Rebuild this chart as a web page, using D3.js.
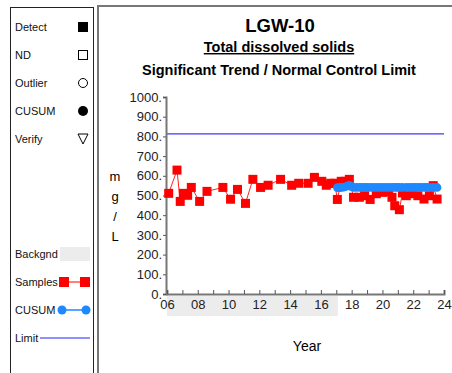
<!DOCTYPE html>
<html>
<head>
<meta charset="utf-8">
<script src="https://cdn.jsdelivr.net/npm/d3@7"></script>
<style>
  body { margin: 0; background: #fff; }
  svg { display: block; font-family: "Liberation Sans", Arial, sans-serif; }
</style>
</head>
<body>
<svg id="chart" width="452" height="373"></svg>
<script>
// sample dates (decimal year) and TDS values, mg/L
const sampleYears = [2006.11, 2006.65, 2006.86, 2007.06, 2007.34, 2007.58, 2008.12, 2008.6, 2009.63, 2010.13,
  2010.58, 2011.1, 2011.58, 2012.08, 2012.57, 2013.38, 2014.1, 2014.56, 2015.17, 2015.58,
  2016.06, 2016.35, 2016.64, 2016.9, 2017.07, 2017.32, 2017.58, 2017.85, 2018.12, 2018.5,
  2018.84, 2019.2, 2019.6, 2020.0, 2020.4, 2020.62, 2020.8, 2021.1, 2021.3, 2021.55,
  2021.95, 2022.3, 2022.7, 2023.05, 2023.3, 2023.55]
const sampleValues = [511, 629, 470, 511, 501, 541, 470, 521, 541, 481,
  531, 460, 582, 541, 552, 582, 552, 562, 562, 592,
  572, 552, 562, 562, 480, 572, 572, 582, 491, 491,
  499, 480, 509, 516, 519, 491, 448, 428, 513, 499,
  509, 499, 482, 499, 550, 482]

// cusum track after background period
const cusumYears = [2017.07, 2017.2, 2017.32, 2017.45, 2017.58, 2017.72, 2017.85, 2017.98, 2018.12, 2018.3,
  2018.5, 2018.67, 2018.84, 2019.02, 2019.2, 2019.4, 2019.6, 2019.8, 2020.0, 2020.2,
  2020.4, 2020.62, 2020.8, 2020.95, 2021.1, 2021.3, 2021.55, 2021.75, 2021.95, 2022.12,
  2022.3, 2022.5, 2022.7, 2022.88, 2023.05, 2023.3, 2023.55]
const cusumValues = [540, 540, 541, 542, 544, 548, 552, 545, 541, 541,
  541, 541, 541, 541, 541, 541, 541, 541, 541, 541,
  541, 541, 541, 541, 541, 541, 541, 541, 541, 541,
  541, 541, 541, 541, 541, 541, 541]

const limitValue = 813
const backgroundPeriod = [2006, 2017.1]
const yTicks = [0, 100, 200, 300, 400, 500, 600, 700, 800, 900, 1000]
const xLabelYears = [2006, 2008, 2010, 2012, 2014, 2016, 2018, 2020, 2022, 2024]

const legendSymbols = ["Detect", "ND", "Outlier", "CUSUM", "Verify"]
const legendLines = ["Backgnd", "Samples", "CUSUM", "Limit"]

const svg = d3.select("#chart")

//panels
svg.append("rect").attr("x", 10.5).attr("y", 7.5).attr("width", 83).attr("height", 380)
  .attr("fill", "none").attr("stroke", "#222").attr("stroke-width", 1)
svg.append("rect").attr("x", 98).attr("y", 6).attr("width", 370).attr("height", 380)
  .attr("fill", "none").attr("stroke", "#777").attr("stroke-width", 2)

//legend - symbols
const leg = svg.append("g").attr("font-size", 11).attr("fill", "#111")
legendSymbols.forEach((t, i) => {
  let y = 27 + i * 28
  leg.append("text").attr("x", 15).attr("y", y + 4).text(t)
  let cx = 83
  if (i == 0) leg.append("rect").attr("x", cx - 5).attr("y", y - 5).attr("width", 10).attr("height", 10).attr("fill", "#000")
  if (i == 1) leg.append("rect").attr("x", cx - 4.5).attr("y", y - 4.5).attr("width", 9).attr("height", 9).attr("fill", "none").attr("stroke", "#000")
  if (i == 2) leg.append("circle").attr("cx", cx).attr("cy", y).attr("r", 4.5).attr("fill", "none").attr("stroke", "#000")
  if (i == 3) leg.append("circle").attr("cx", cx).attr("cy", y).attr("r", 5).attr("fill", "#000")
  if (i == 4) leg.append("path").attr("d", `M${cx - 5},${y - 5}L${cx + 5},${y - 5}L${cx},${y + 5}Z`).attr("fill", "none").attr("stroke", "#000")
})

//legend - lines
legendLines.forEach((t, i) => {
  let y = 254 + i * 28
  leg.append("text").attr("x", 15).attr("y", y + 4).text(t)
  if (i == 0) leg.append("rect").attr("x", 60).attr("y", y - 7).attr("width", 30).attr("height", 14).attr("fill", "#ececec")
  if (i == 1) {
    leg.append("line").attr("x1", 64).attr("x2", 85).attr("y1", y).attr("y2", y).attr("stroke", "#f00")
    leg.selectAll(null).data([64, 85]).enter().append("rect")
      .attr("x", d => d - 5).attr("y", y - 5).attr("width", 10).attr("height", 10).attr("fill", "#f00")
  }
  if (i == 2) {
    leg.append("line").attr("x1", 62).attr("x2", 86).attr("y1", y).attr("y2", y).attr("stroke", "#1e88ff").attr("stroke-width", 1.5)
    leg.selectAll(null).data([62, 86]).enter().append("circle")
      .attr("cx", d => d).attr("cy", y).attr("r", 4.5).attr("fill", "#1e88ff")
  }
  if (i == 3) leg.append("line").attr("x1", 40).attr("x2", 90).attr("y1", y).attr("y2", y).attr("stroke", "#22f").attr("stroke-width", 1.2)
})

//titles
const tg = svg.append("g").attr("text-anchor", "middle").attr("font-weight", "bold").attr("fill", "#000")
tg.append("text").attr("x", 280).attr("y", 32).attr("font-size", 18.5).text("LGW-10")
tg.append("text").attr("x", 279).attr("y", 52).attr("font-size", 14.5).attr("text-decoration", "underline").text("Total dissolved solids")
tg.append("text").attr("x", 279).attr("y", 75).attr("font-size", 14.5).text("Significant Trend / Normal Control Limit")

//scales
const x = d3.scaleLinear().domain([2006, 2024]).range([167, 444])
const y = d3.scaleLinear().domain([0, 1000]).range([294, 97])

//background band
svg.append("rect").attr("x", x(backgroundPeriod[0])).attr("y", 296)
  .attr("width", x(backgroundPeriod[1]) - x(backgroundPeriod[0])).attr("height", 20).attr("fill", "#ececec")

//limit
svg.append("line").attr("x1", x(2006)).attr("x2", x(2024)).attr("y1", y(limitValue)).attr("y2", y(limitValue))
  .attr("stroke", "#3a3aff").attr("stroke-width", 1.3)

//axes
const yAxis = svg.append("g").attr("transform", "translate(166,0)")
  .call(d3.axisLeft(y).tickValues(yTicks).tickSize(3).tickFormat(d => d + "."))
const xAxis = svg.append("g").attr("transform", "translate(0,294)")
  .call(d3.axisBottom(x).tickValues(d3.range(2006, 2025)).tickSize(-4).tickFormat(d => xLabelYears.includes(d) ? String(d).slice(2) : ""))
;[yAxis, xAxis].forEach(a => {
  a.select(".domain").attr("stroke", "#777").attr("stroke-width", 2)
  a.selectAll(".tick line").attr("stroke", "#555")
  a.selectAll("text").attr("fill", "#222").attr("font-size", 13).attr("font-family", "Liberation Sans, Arial, sans-serif")
})
yAxis.selectAll("text").attr("x", -4)
xAxis.selectAll("text").attr("y", 6)

//axis labels
const yl = svg.append("g").attr("font-size", 13).attr("text-anchor", "middle").attr("fill", "#000")
;["m", "g", "/", "L"].forEach((c, i) => yl.append("text").attr("x", 115).attr("y", 181 + i * 20).text(c))
svg.append("text").attr("x", 307).attr("y", 351).attr("font-size", 14).attr("text-anchor", "middle").text("Year")

//samples
const pts = sampleYears.map((d, i) => [d, sampleValues[i]])
svg.append("path").datum(pts).attr("fill", "none").attr("stroke", "#f22").attr("stroke-width", 1)
  .attr("d", d3.line().x(d => x(d[0])).y(d => y(d[1])))
svg.selectAll(".s").data(pts).enter().append("rect").attr("class", "s")
  .attr("x", d => x(d[0]) - 4.5).attr("y", d => y(d[1]) - 4.5).attr("width", 9).attr("height", 9).attr("fill", "#f00")

//cusum
const cpts = cusumYears.map((d, i) => [d, cusumValues[i]])
svg.append("path").datum(cpts).attr("fill", "none").attr("stroke", "#1e88ff").attr("stroke-width", 2)
  .attr("d", d3.line().x(d => x(d[0])).y(d => y(d[1])))
svg.selectAll(".c").data(cpts).enter().append("circle").attr("class", "c")
  .attr("cx", d => x(d[0])).attr("cy", d => y(d[1])).attr("r", 4.3).attr("fill", "#1e88ff")
</script>
</body>
</html>
